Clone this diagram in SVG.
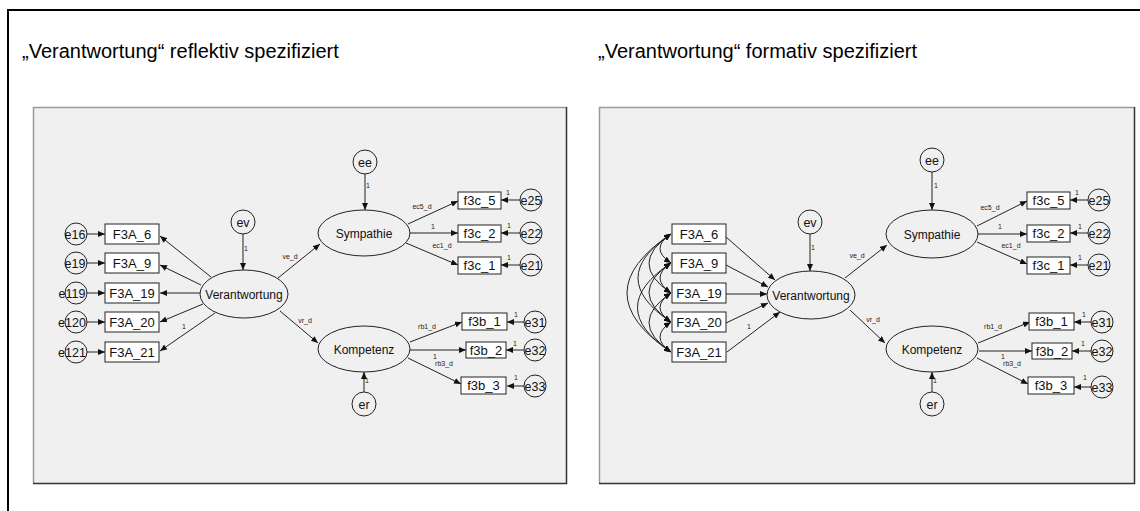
<svg xmlns="http://www.w3.org/2000/svg" width="1140" height="511" viewBox="0 0 1140 511">
<defs>
<marker id="ah" markerUnits="userSpaceOnUse" markerWidth="7" markerHeight="6" refX="7" refY="3" orient="auto-start-reverse"><path d="M0,0 L7,3 L0,6 z" fill="#111"/></marker>
<style>
.t{font-family:"Liberation Sans",Arial,sans-serif;font-size:20px;fill:#000}
.n{font-family:"Liberation Sans",Arial,sans-serif;font-size:12px;fill:#111;text-anchor:middle}
.f{font-family:"Liberation Sans",Arial,sans-serif;font-size:13px;fill:#111;text-anchor:middle}
.e{font-family:"Liberation Sans",Arial,sans-serif;font-size:12.5px;fill:#111;text-anchor:middle}
.s{font-family:"Liberation Sans",Arial,sans-serif;font-size:7px;fill:#222;text-anchor:middle}
.b{fill:#fff;stroke:#222;stroke-width:1}
.o{fill:none;stroke:#222;stroke-width:1}
.c line,.c path{stroke:#222;stroke-width:1;fill:none;marker-end:url(#ah)}
.c .dbl{marker-start:url(#ah)}
</style>
</defs>
<rect width="1140" height="511" fill="#fff"/>
<path d="M8 511 V10 H1140" fill="none" stroke="#000" stroke-width="2"/>
<text class="t" x="22" y="58">„Verantwortung“ reflektiv spezifiziert</text>
<text class="t" x="598" y="58">„Verantwortung“ formativ spezifiziert</text>

<!-- panels -->
<g id="panel-left">
<rect x="33" y="107" width="534" height="376" fill="#f0f0f0"/>
<path d="M33.5 483 V107.5 H567" fill="none" stroke="#9a9a9a" stroke-width="1.5"/>
<path d="M566.5 107 V483.5 H33" fill="none" stroke="#333" stroke-width="1.5"/>
</g>
<g id="panel-right">
<rect x="599" y="107" width="536" height="376" fill="#f0f0f0"/>
<path d="M599.5 483 V107.5 H1135" fill="none" stroke="#9a9a9a" stroke-width="1.5"/>
<path d="M1134.5 107 V483.5 H599" fill="none" stroke="#333" stroke-width="1.5"/>
</g>

<!-- connectors -->
<g id="connectors" class="c">
<!-- left -->
<line x1="87" y1="234" x2="105" y2="234"/>
<line x1="87" y1="263" x2="105" y2="263"/>
<line x1="87" y1="293" x2="105" y2="293"/>
<line x1="87" y1="322" x2="105" y2="322"/>
<line x1="87" y1="352" x2="105" y2="352"/>
<line x1="243" y1="234" x2="243" y2="270"/>
<line x1="211" y1="277" x2="160" y2="236"/>
<line x1="201" y1="285" x2="160" y2="265"/>
<line x1="200" y1="293" x2="160" y2="293"/>
<line x1="203" y1="304" x2="160" y2="322"/>
<line x1="215" y1="313" x2="160" y2="351"/>
<line x1="365" y1="174" x2="365" y2="210"/>
<line x1="408" y1="224" x2="458" y2="201"/>
<line x1="410" y1="233" x2="458" y2="233"/>
<line x1="406" y1="243" x2="458" y2="265"/>
<line x1="520" y1="200" x2="501" y2="200"/>
<line x1="520" y1="233" x2="501" y2="233"/>
<line x1="520" y1="265" x2="501" y2="265"/>
<line x1="278" y1="278" x2="320" y2="244"/>
<line x1="280" y1="311" x2="318" y2="343"/>
<line x1="364" y1="392" x2="364" y2="372"/>
<line x1="410" y1="342" x2="462" y2="322"/>
<line x1="410" y1="350" x2="466" y2="350"/>
<line x1="408" y1="358" x2="461" y2="384"/>
<line x1="524" y1="322" x2="507" y2="322"/>
<line x1="524" y1="350" x2="506" y2="350"/>
<line x1="524" y1="386" x2="507" y2="386"/>
<!-- right -->
<line x1="810" y1="234" x2="810" y2="271"/>
<line x1="726" y1="237" x2="775" y2="280"/>
<line x1="726" y1="265" x2="768" y2="287"/>
<line x1="726" y1="294" x2="767" y2="294"/>
<line x1="726" y1="323" x2="768" y2="303"/>
<line x1="727" y1="352" x2="780" y2="312"/>
<path class="dbl" d="M671 234 Q649 248.5 671 263"/>
<path class="dbl" d="M671 234 Q627 263.5 671 293"/>
<path class="dbl" d="M671 234 Q605 278 671 322"/>
<path class="dbl" d="M671 234 Q583 293 671 352"/>
<path class="dbl" d="M671 263 Q649 278 671 293"/>
<path class="dbl" d="M671 263 Q627 292.5 671 322"/>
<path class="dbl" d="M671 263 Q604 307.5 671 352"/>
<path class="dbl" d="M671 293 Q649 307.5 671 322"/>
<path class="dbl" d="M671 293 Q627 322.5 671 352"/>
<path class="dbl" d="M671 322 Q649 337 671 352"/>
<line x1="932" y1="172" x2="932" y2="210"/>
<line x1="977" y1="226" x2="1027" y2="201"/>
<line x1="978" y1="234" x2="1027" y2="234"/>
<line x1="977" y1="242" x2="1027" y2="264"/>
<line x1="1088" y1="200" x2="1070" y2="200"/>
<line x1="1088" y1="233" x2="1070" y2="233"/>
<line x1="1088" y1="265" x2="1070" y2="265"/>
<line x1="845" y1="278" x2="887" y2="245"/>
<line x1="850" y1="310" x2="885" y2="343"/>
<line x1="932" y1="392" x2="932" y2="372"/>
<line x1="978" y1="343" x2="1030" y2="322"/>
<line x1="979" y1="351" x2="1032" y2="351"/>
<line x1="977" y1="358" x2="1028" y2="384"/>
<line x1="1091" y1="322" x2="1074" y2="322"/>
<line x1="1091" y1="351" x2="1072" y2="351"/>
<line x1="1091" y1="387" x2="1074" y2="387"/>
</g>

<!-- connector labels -->
<g id="labels">
<text class="s" x="246" y="251">1</text>
<text class="s" x="184" y="329">1</text>
<text class="s" x="368" y="188">1</text>
<text class="s" x="422" y="209">ec5_d</text>
<text class="s" x="433" y="229">1</text>
<text class="s" x="442" y="248">ec1_d</text>
<text class="s" x="508" y="195">1</text>
<text class="s" x="509" y="228">1</text>
<text class="s" x="509" y="260">1</text>
<text class="s" x="290" y="259">ve_d</text>
<text class="s" x="305" y="323">vr_d</text>
<text class="s" x="367" y="383">1</text>
<text class="s" x="427" y="329">rb1_d</text>
<text class="s" x="435" y="359">1</text>
<text class="s" x="444" y="366">rb3_d</text>
<text class="s" x="516" y="317">1</text>
<text class="s" x="515" y="346">1</text>
<text class="s" x="516" y="380">1</text>

<text class="s" x="813" y="250">1</text>
<text class="s" x="749" y="329">1</text>
<text class="s" x="936" y="188">1</text>
<text class="s" x="990" y="210">ec5_d</text>
<text class="s" x="1000" y="229">1</text>
<text class="s" x="1011" y="248">ec1_d</text>
<text class="s" x="1077" y="195">1</text>
<text class="s" x="1080" y="229">1</text>
<text class="s" x="1080" y="260">1</text>
<text class="s" x="857" y="258">ve_d</text>
<text class="s" x="873" y="322">vr_d</text>
<text class="s" x="935" y="383">1</text>
<text class="s" x="993" y="329">rb1_d</text>
<text class="s" x="1003" y="359">1</text>
<text class="s" x="1012" y="366">rb3_d</text>
<text class="s" x="1084" y="317">1</text>
<text class="s" x="1083" y="346">1</text>
<text class="s" x="1085" y="380">1</text>
</g>

<!-- left nodes -->
<g id="L-e16"><circle class="o" cx="76" cy="234" r="11"/><text class="e" x="75" y="238.5">e16</text></g>
<g id="L-e19"><circle class="o" cx="76" cy="263" r="11"/><text class="e" x="75" y="267.5">e19</text></g>
<g id="L-e119"><circle class="o" cx="76" cy="293" r="11"/><text class="e" x="72" y="297.5">e119</text></g>
<g id="L-e120"><circle class="o" cx="76" cy="322" r="11"/><text class="e" x="72" y="326.5">e120</text></g>
<g id="L-e121"><circle class="o" cx="76" cy="352" r="11"/><text class="e" x="72" y="356.5">e121</text></g>
<g id="L-F3A_6"><rect class="b" x="105" y="224" width="54" height="20"/><text class="f" x="132" y="238.5">F3A_6</text></g>
<g id="L-F3A_9"><rect class="b" x="105" y="253" width="54" height="20"/><text class="f" x="132" y="267.5">F3A_9</text></g>
<g id="L-F3A_19"><rect class="b" x="105" y="283" width="54" height="20"/><text class="f" x="132" y="297.5">F3A_19</text></g>
<g id="L-F3A_20"><rect class="b" x="105" y="312" width="54" height="20"/><text class="f" x="132" y="326.5">F3A_20</text></g>
<g id="L-F3A_21"><rect class="b" x="105" y="342" width="54" height="20"/><text class="f" x="132" y="356.5">F3A_21</text></g>
<g id="L-ev"><circle class="o" cx="243" cy="222" r="12"/><text class="e" x="243" y="226.5">ev</text></g>
<g id="L-Verantwortung"><ellipse class="o" cx="244" cy="294" rx="44" ry="24"/><text class="n" x="244" y="298.5">Verantwortung</text></g>
<g id="L-ee"><circle class="o" cx="365" cy="162" r="12"/><text class="e" x="365" y="166.5">ee</text></g>
<g id="L-Sympathie"><ellipse class="o" cx="364" cy="233" rx="46" ry="23"/><text class="n" x="364" y="237.5">Sympathie</text></g>
<g id="L-f3c_5"><rect class="b" x="458" y="192" width="43" height="17"/><text class="f" x="479.5" y="205">f3c_5</text></g>
<g id="L-f3c_2"><rect class="b" x="458" y="225" width="43" height="17"/><text class="f" x="479.5" y="238">f3c_2</text></g>
<g id="L-f3c_1"><rect class="b" x="458" y="257" width="43" height="17"/><text class="f" x="479.5" y="270">f3c_1</text></g>
<g id="L-e25"><circle class="o" cx="531" cy="200" r="11"/><text class="e" x="531" y="204.5">e25</text></g>
<g id="L-e22"><circle class="o" cx="531" cy="233" r="11"/><text class="e" x="531" y="237.5">e22</text></g>
<g id="L-e21"><circle class="o" cx="531" cy="265" r="11"/><text class="e" x="531" y="269.5">e21</text></g>
<g id="L-Kompetenz"><ellipse class="o" cx="364" cy="349" rx="46" ry="23"/><text class="n" x="364" y="353.5">Kompetenz</text></g>
<g id="L-er"><circle class="o" cx="364" cy="404" r="12"/><text class="e" x="364" y="408.5">er</text></g>
<g id="L-f3b_1"><rect class="b" x="462" y="313" width="45" height="17"/><text class="f" x="484.5" y="326">f3b_1</text></g>
<g id="L-f3b_2"><rect class="b" x="466" y="342" width="40" height="16"/><text class="f" x="486" y="354.5">f3b_2</text></g>
<g id="L-f3b_3"><rect class="b" x="461" y="377" width="45" height="17"/><text class="f" x="483.5" y="390">f3b_3</text></g>
<g id="L-e31"><circle class="o" cx="535" cy="322" r="11"/><text class="e" x="535" y="326.5">e31</text></g>
<g id="L-e32"><circle class="o" cx="535" cy="350" r="11"/><text class="e" x="535" y="354.5">e32</text></g>
<g id="L-e33"><circle class="o" cx="535" cy="386" r="11"/><text class="e" x="535" y="390.5">e33</text></g>

<!-- right nodes -->
<g id="R-F3A_6"><rect class="b" x="672" y="224" width="54" height="20"/><text class="f" x="699" y="238.5">F3A_6</text></g>
<g id="R-F3A_9"><rect class="b" x="672" y="253" width="54" height="20"/><text class="f" x="699" y="267.5">F3A_9</text></g>
<g id="R-F3A_19"><rect class="b" x="672" y="283" width="54" height="20"/><text class="f" x="699" y="297.5">F3A_19</text></g>
<g id="R-F3A_20"><rect class="b" x="672" y="312" width="54" height="20"/><text class="f" x="699" y="326.5">F3A_20</text></g>
<g id="R-F3A_21"><rect class="b" x="672" y="342" width="54" height="20"/><text class="f" x="699" y="356.5">F3A_21</text></g>
<g id="R-ev"><circle class="o" cx="810" cy="222" r="12"/><text class="e" x="810" y="226.5">ev</text></g>
<g id="R-Verantwortung"><ellipse class="o" cx="811" cy="295" rx="44" ry="24"/><text class="n" x="811" y="299.5">Verantwortung</text></g>
<g id="R-ee"><circle class="o" cx="932" cy="160" r="12"/><text class="e" x="932" y="164.5">ee</text></g>
<g id="R-Sympathie"><ellipse class="o" cx="932" cy="234" rx="46" ry="24"/><text class="n" x="932" y="238.5">Sympathie</text></g>
<g id="R-f3c_5"><rect class="b" x="1027" y="192" width="43" height="17"/><text class="f" x="1048.5" y="205">f3c_5</text></g>
<g id="R-f3c_2"><rect class="b" x="1027" y="225" width="43" height="17"/><text class="f" x="1048.5" y="238">f3c_2</text></g>
<g id="R-f3c_1"><rect class="b" x="1027" y="257" width="43" height="17"/><text class="f" x="1048.5" y="270">f3c_1</text></g>
<g id="R-e25"><circle class="o" cx="1099" cy="200" r="11"/><text class="e" x="1099" y="204.5">e25</text></g>
<g id="R-e22"><circle class="o" cx="1099" cy="233" r="11"/><text class="e" x="1099" y="237.5">e22</text></g>
<g id="R-e21"><circle class="o" cx="1099" cy="265" r="11"/><text class="e" x="1099" y="269.5">e21</text></g>
<g id="R-Kompetenz"><ellipse class="o" cx="932" cy="349" rx="46" ry="23"/><text class="n" x="932" y="353.5">Kompetenz</text></g>
<g id="R-er"><circle class="o" cx="932" cy="404" r="12"/><text class="e" x="932" y="408.5">er</text></g>
<g id="R-f3b_1"><rect class="b" x="1029" y="313" width="45" height="17"/><text class="f" x="1051.5" y="326">f3b_1</text></g>
<g id="R-f3b_2"><rect class="b" x="1032" y="343" width="40" height="16"/><text class="f" x="1052" y="355.5">f3b_2</text></g>
<g id="R-f3b_3"><rect class="b" x="1028" y="377" width="46" height="17"/><text class="f" x="1051" y="390">f3b_3</text></g>
<g id="R-e31"><circle class="o" cx="1102" cy="322" r="11"/><text class="e" x="1102" y="326.5">e31</text></g>
<g id="R-e32"><circle class="o" cx="1102" cy="351" r="11"/><text class="e" x="1102" y="355.5">e32</text></g>
<g id="R-e33"><circle class="o" cx="1102" cy="387" r="11"/><text class="e" x="1102" y="391.5">e33</text></g>
</svg>
